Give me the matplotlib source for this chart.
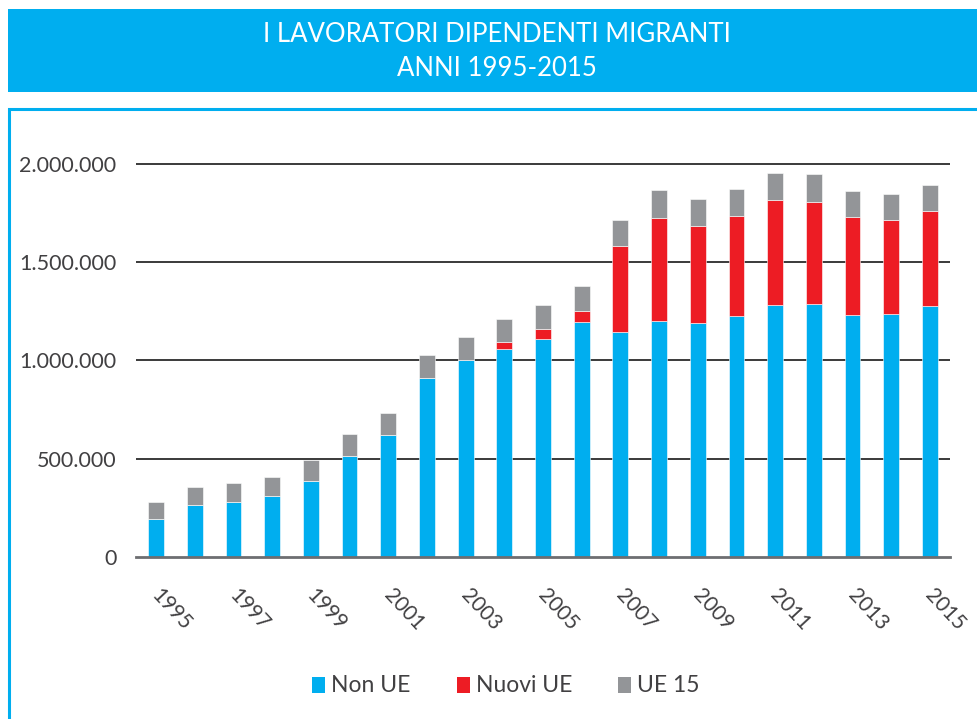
import matplotlib
matplotlib.use("Agg")
import matplotlib.pyplot as plt
import matplotlib.transforms as mtransforms
from matplotlib.patches import Rectangle
import numpy as np

plt.rcParams['font.family'] = ['Lato', 'DejaVu Sans']

# data
years = list(range(1995, 2016))
non_ue = [192000, 264000, 281000, 312000, 388000, 515000, 619000, 908000, 1003000, 1056000,
          1110000, 1196000, 1144000, 1201000, 1188000, 1224000, 1281000, 1285000, 1230000, 1234000,
          1278000]
nuovi_ue = [0, 0, 0, 0, 0, 0, 0, 0, 0, 35000,
            48000, 55000, 439000, 524000, 496000, 511000, 536000, 521000, 499000, 481000,
            483000]
ue15 = [88000, 93000, 97000, 95000, 104000, 110000, 113000, 117000, 114000, 119000,
        122000, 125000, 130000, 139000, 136000, 137000, 137000, 140000, 132000, 130000,
        132000]
series_names = ["Non UE", "Nuovi UE", "UE 15"]
y_ticks = [0, 500000, 1000000, 1500000, 2000000]

BLUE = "#00AEEF"
RED = "#ED1C24"
GRAY = "#939598"
TEXT = "#414042"

W, H = 977, 719
fig = plt.figure(figsize=(W / 100, H / 100), dpi=100)

# header band + panel frame
fig.patches.append(Rectangle((8 / W, 1 - 92 / H), 1, 83 / H, transform=fig.transFigure,
                             facecolor=BLUE, edgecolor='none'))
fig.patches.append(Rectangle((8.5 / W, -0.1), 1, 1.1 - 109 / H, transform=fig.transFigure,
                             facecolor='none', edgecolor=BLUE, linewidth=2.2))
fig.text(497 / W, 1 - 35 / H, "I LAVORATORI DIPENDENTI MIGRANTI", color='white',
         fontsize=18.5, ha='center', va='center')
fig.text(497 / W, 1 - 68 / H, "ANNI 1995-2015", color='white',
         fontsize=18.5, ha='center', va='center')

# axes placement: zero at y=557px, 196.7 px per million
ymax = 2050000
top_px = 557 - ymax / 1e6 * 196.7
ax = fig.add_axes([136 / W, 1 - 557 / H, 814 / W, (557 - top_px) / H])

x = np.arange(len(years))
bw = 0.41
non_ue = np.array(non_ue)
nuovi_ue = np.array(nuovi_ue)
ue15 = np.array(ue15)
ax.bar(x, non_ue, bw, color=BLUE, edgecolor='white', linewidth=0.4, zorder=3)
ax.bar(x, nuovi_ue, bw, bottom=non_ue, color=RED, edgecolor='white', linewidth=0.4, zorder=3)
ax.bar(x, ue15, bw, bottom=non_ue + nuovi_ue, color=GRAY, edgecolor='white', linewidth=0.4, zorder=3)

ax.set_xlim(-0.52, 20.52)
ax.set_ylim(0, ymax)
for v in y_ticks[1:]:
    ax.axhline(v, color='#2b2b2b', linewidth=1.3, zorder=1)

ax.set_yticks(y_ticks)
ax.set_yticklabels([f"{v:,}".replace(",", ".") for v in y_ticks])
ax.tick_params(axis='y', length=0, pad=14, labelsize=15.5, labelcolor=TEXT)

ax.set_xticks(x[::2])
ax.set_xticklabels([str(y) for y in years[::2]], rotation=-47, ha='left', va='top',
                   rotation_mode='anchor')
ax.tick_params(axis='x', length=0, pad=20, labelsize=15, labelcolor=TEXT)
shift = mtransforms.ScaledTranslation(6 / 100, 0, fig.dpi_scale_trans)
for lbl in ax.get_xticklabels():
    lbl.set_transform(lbl.get_transform() + shift)

for s in ['top', 'right', 'left']:
    ax.spines[s].set_visible(False)
ax.spines['bottom'].set_color('#6d6e71')
ax.spines['bottom'].set_linewidth(2)
ax.spines['bottom'].set_zorder(4)

# legend
colors = [BLUE, RED, GRAY]
sq_x = [312, 457, 618]
for name, c, sx in zip(series_names, colors, sq_x):
    fig.patches.append(Rectangle((sx / W, 1 - 693 / H), 12.7 / W, 16 / H,
                                 transform=fig.transFigure, facecolor=c, edgecolor='none'))
    fig.text((sx + 19) / W, 1 - 685 / H, name, fontsize=16.5, color=TEXT,
             ha='left', va='center')

fig.savefig("out.png", dpi=100)
